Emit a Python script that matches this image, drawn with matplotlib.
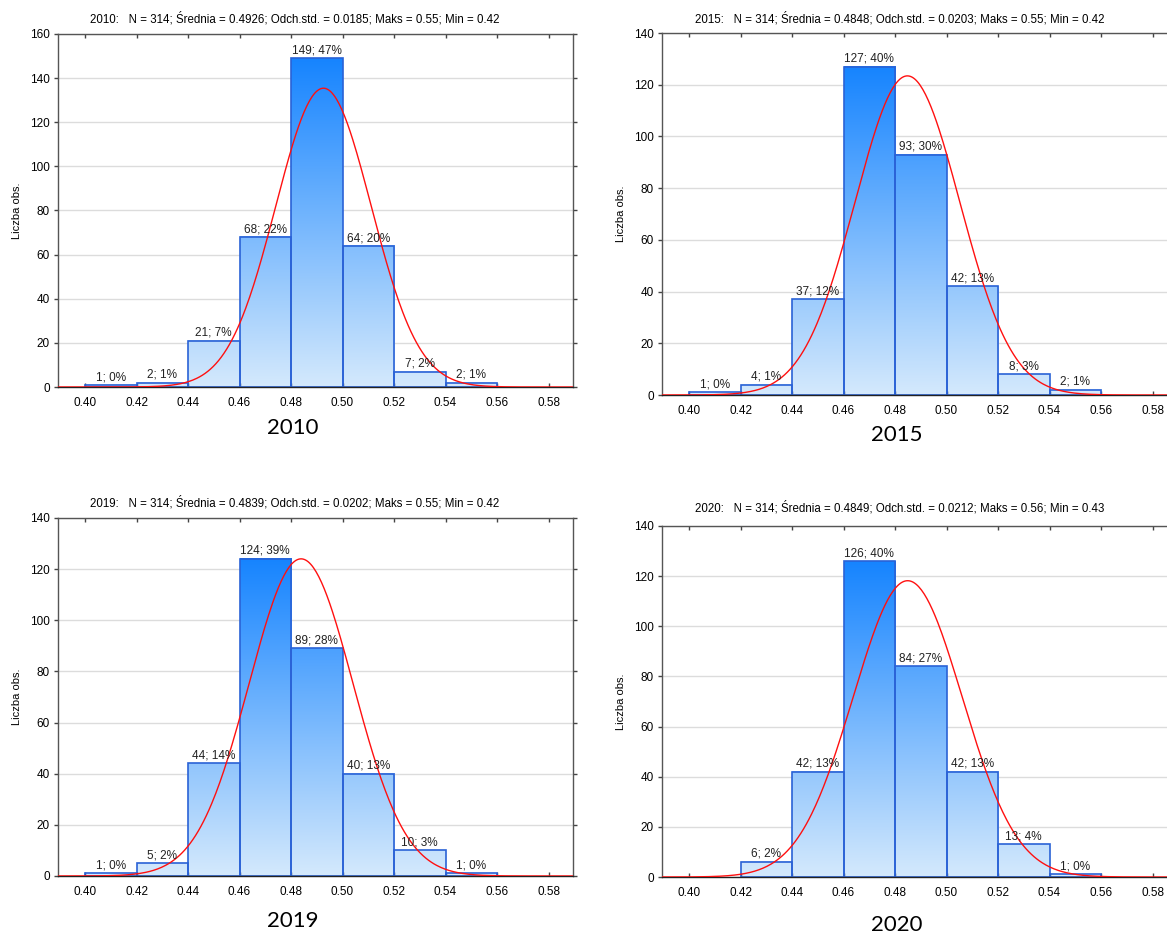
import numpy as np
import matplotlib
matplotlib.use('Agg')
from matplotlib import pyplot as plt
from matplotlib.colors import LinearSegmentedColormap
from matplotlib.patches import Rectangle

plt.rcParams['font.family'] = ['Liberation Sans', 'DejaVu Sans']

# dane: lewe krawedzie przedzialow (szerokosc 0.02) i liczebnosci
krawedzie = [0.40, 0.42, 0.44, 0.46, 0.48, 0.50, 0.52, 0.54]
lata = ['2010', '2015', '2019', '2020']
liczebnosci = {
    '2010': [1, 2, 21, 68, 149, 64, 7, 2],
    '2015': [1, 4, 37, 127, 93, 42, 8, 2],
    '2019': [1, 5, 44, 124, 89, 40, 10, 1],
    '2020': [0, 6, 42, 126, 84, 42, 13, 1],
}
N = [314, 314, 314, 314]
srednia = [0.4926, 0.4848, 0.4839, 0.4849]
odch = [0.0185, 0.0203, 0.0202, 0.0212]
maks = [0.55, 0.55, 0.55, 0.56]
minimum = [0.42, 0.42, 0.42, 0.43]
xticki = [0.40, 0.42, 0.44, 0.46, 0.48, 0.50, 0.52, 0.54, 0.56, 0.58]
ymax = [160, 140, 140, 140]

W, H = 1167, 942
szer = 0.02

# polozenia paneli w pikselach: lewo, gora, prawo, dol
pozycje = [(58, 34, 573, 387), (662, 33, 1177, 395), (58, 518, 573, 876), (662, 526, 1177, 877)]
tytuly_xy = [(295, 19), (900, 19), (295, 503), (900, 508)]
podpisy_xy = [(293, 428), (897, 435), (293, 921), (897, 925)]
ylab_x = [17, 621, 17, 621]

cmap = LinearSegmentedColormap.from_list('nieb', ['#d4e9fc', '#1684ff'])

fig = plt.figure(figsize=(W / 100, H / 100), dpi=100)

for k, rok in enumerate(lata):
    l, t, r, b = pozycje[k]
    ax = fig.add_axes([l / W, 1 - b / H, (r - l) / W, (b - t) / H])
    n = liczebnosci[rok]
    hmax = max(n)

    for y in range(0, ymax[k] + 1, 20):
        ax.axhline(y, color='#dcdcdc', lw=1, zorder=0)

    for x0, h in zip(krawedzie, n):
        if h == 0:
            continue
        grad = np.linspace(0, h / hmax, 256).reshape(-1, 1)
        ax.imshow(grad, extent=[x0, x0 + szer, 0, h], origin='lower', cmap=cmap,
                  vmin=0, vmax=1, aspect='auto', zorder=1, interpolation='bilinear')
        ax.add_patch(Rectangle((x0, 0), szer, h, facecolor='none', edgecolor='#2a62d6',
                               lw=1.2, zorder=2))
        proc = int(round(h / N[k] * 100))
        ax.text(x0 + szer / 2, h + 0.8, f'{h}; {proc}%', ha='center', va='bottom',
                fontsize=8.5, color='#222222', zorder=4)

    # krzywa normalna dopasowana
    xs = np.linspace(0.385, 0.595, 400)
    ys = N[k] * szer / (odch[k] * np.sqrt(2 * np.pi)) * np.exp(-0.5 * ((xs - srednia[k]) / odch[k]) ** 2)
    ax.plot(xs, ys, color='#ff1010', lw=1, zorder=3)

    ax.set_xlim(0.3895, 0.5895)
    ax.set_ylim(0, ymax[k])
    ax.set_xticks(xticki)
    ax.set_xticklabels([f'{v:.2f}' for v in xticki])
    ax.set_yticks(range(0, ymax[k] + 1, 20))
    ax.tick_params(axis='x', direction='in', top=True, length=3, width=1, color='#444444',
                   labelsize=8.5, pad=7)
    ax.tick_params(axis='y', direction='out', right=True, length=3, width=1, color='#444444',
                   labelsize=8.5, pad=3)
    for s in ax.spines.values():
        s.set_color('#555555')
        s.set_linewidth(1)
    ax.spines['bottom'].set_color('#222222')

    fig.text(tytuly_xy[k][0] / W, 1 - tytuly_xy[k][1] / H,
             f'{rok}:   N = {N[k]}; Średnia = {srednia[k]:.4f}; Odch.std. = {odch[k]:.4f}; '
             f'Maks = {maks[k]:.2f}; Min = {minimum[k]:.2f}',
             ha='center', va='center', fontsize=8.3)
    fig.text(ylab_x[k] / W, 1 - (t + b) / 2 / H, 'Liczba obs.', rotation=90,
             ha='center', va='center', fontsize=8)
    fig.text(podpisy_xy[k][0] / W, 1 - podpisy_xy[k][1] / H, rok, ha='center', va='center',
             fontsize=16, family=['Lato', 'DejaVu Sans'])

fig.savefig('out.png', dpi=100)
